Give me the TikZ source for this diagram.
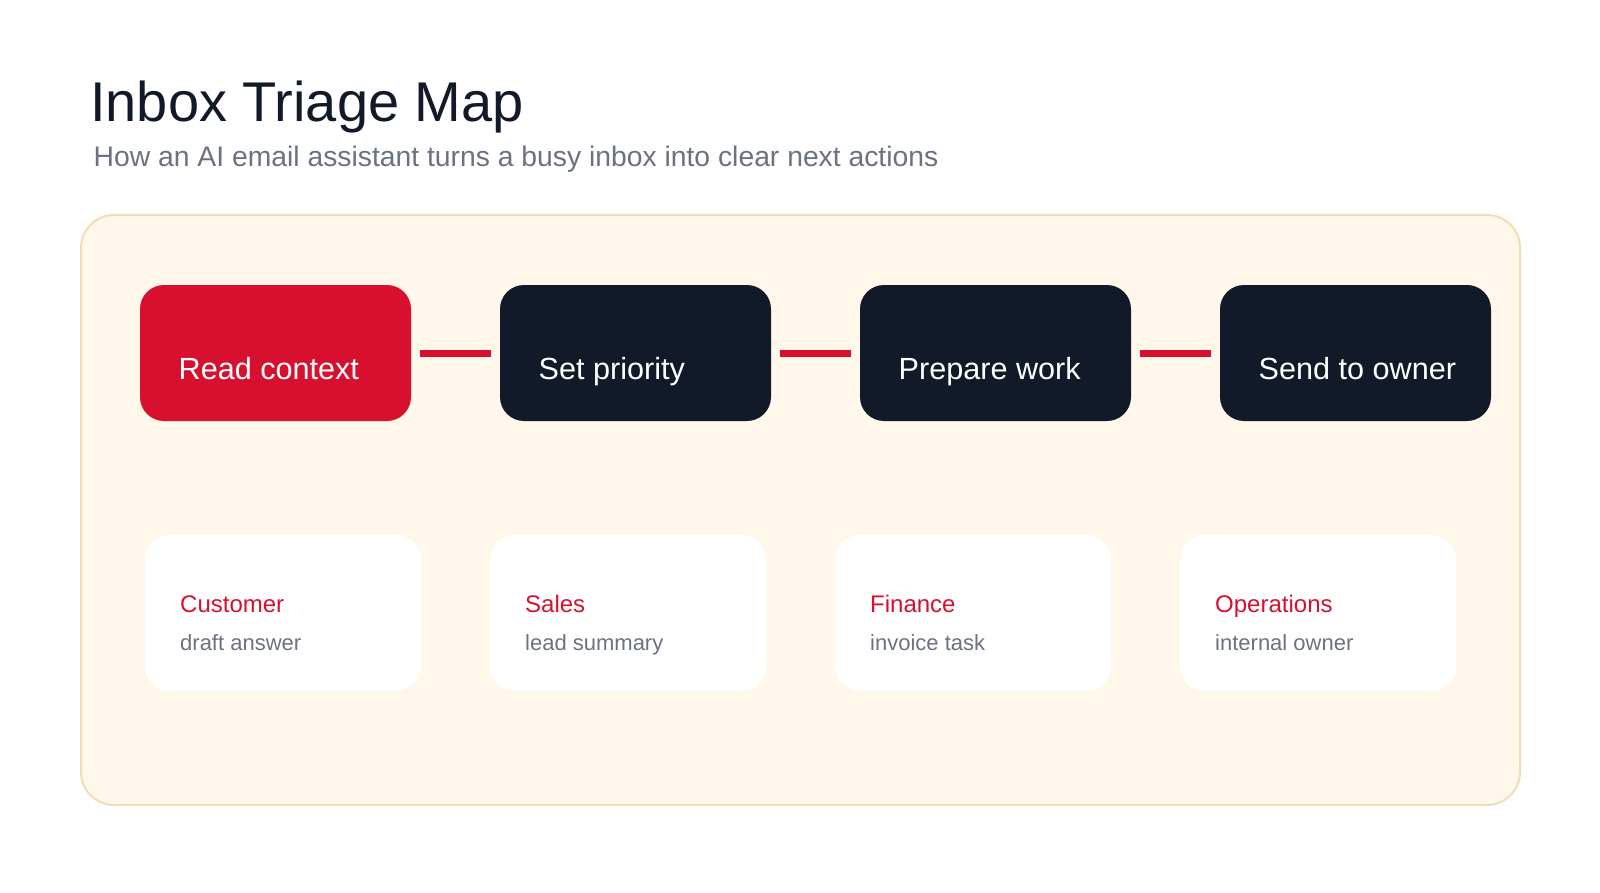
\documentclass[tikz,border=0pt]{standalone}
\usepackage{fontspec}
\setmainfont{Liberation Sans}
\definecolor{accent}{RGB}{215,16,47}
\definecolor{ink}{RGB}{18,25,41}
\definecolor{muted}{RGB}{107,114,128}
\definecolor{panelfill}{RGB}{255,247,234}
\definecolor{panelline}{RGB}{242,221,184}
\tikzset{
  panelbox/.style={draw=panelline, line width=2pt, fill=panelfill, rounded corners=33pt,
    minimum width=1439pt, minimum height=590pt, inner sep=0pt, outer sep=0pt},
  stepbox/.style={fill=ink, rounded corners=24pt, minimum width=271pt, minimum height=136pt,
    inner sep=0pt, outer sep=0pt},
  firstbox/.style={stepbox, fill=accent},
  steptext/.style={anchor=base west, inner sep=0pt, text=white, font=\fontsize{30.6}{35}\selectfont},
  cardbox/.style={fill=white, rounded corners=25pt, minimum width=276pt, minimum height=156pt,
    inner sep=0pt, outer sep=0pt},
  cardtitle/.style={anchor=base west, inner sep=0pt, text=accent, font=\fontsize{24}{28}\selectfont},
  cardsub/.style={anchor=base west, inner sep=0pt, text=muted, font=\fontsize{22}{26}\selectfont},
  conn/.style={draw=accent, line width=7pt},
}
\begin{document}
\begin{tikzpicture}[x=1pt,y=-1pt]
\useasboundingbox (0,0) rectangle (1600,893);
\fill[white] (0,0) rectangle (1600,893);
% title
\node[anchor=base west, inner sep=0pt, text=ink, font=\fontsize{56}{60}\selectfont] (title) at (90,121.7) {Inbox Triage Map};
\node[anchor=base west, inner sep=0pt, text=muted, font=\fontsize{28.3}{32}\selectfont] (subtitle) at (93.5,167) {How an AI email assistant turns a busy inbox into clear next actions};
% panel
\node[panelbox] (panel) at (800.5,510) {};
% steps
\node[firstbox] (b1) at (275.5,353) {};
\node[stepbox] (b2) at (635.5,353) {};
\node[stepbox] (b3) at (995.5,353) {};
\node[stepbox] (b4) at (1355.5,353) {};
\node[steptext] (t1) at ([xshift=38.5pt,yshift=-26pt]b1.west) {Read context};
\node[steptext] (t2) at ([xshift=38.5pt,yshift=-26pt]b2.west) {Set priority};
\node[steptext] (t3) at ([xshift=38.5pt,yshift=-26pt]b3.west) {Prepare work};
\node[steptext] (t4) at ([xshift=38.5pt,yshift=-26pt]b4.west) {Send to owner};
\draw[conn] ([xshift=9pt]b1.east) -- ([xshift=-9pt]b2.west);
\draw[conn] ([xshift=9pt]b2.east) -- ([xshift=-9pt]b3.west);
\draw[conn] ([xshift=9pt]b3.east) -- ([xshift=-9pt]b4.west);
% cards
\node[cardbox] (c1) at (283,613) {};
\node[cardbox] (c2) at (628,613) {};
\node[cardbox] (c3) at (973,613) {};
\node[cardbox] (c4) at (1318,613) {};
\node[cardtitle] (c1t) at ([xshift=35pt,yshift=1pt]c1.west) {Customer};
\node[cardsub] (c1s) at ([xshift=35pt,yshift=-37pt]c1.west) {draft answer};
\node[cardtitle] (c2t) at ([xshift=35pt,yshift=1pt]c2.west) {Sales};
\node[cardsub] (c2s) at ([xshift=35pt,yshift=-37pt]c2.west) {lead summary};
\node[cardtitle] (c3t) at ([xshift=35pt,yshift=1pt]c3.west) {Finance};
\node[cardsub] (c3s) at ([xshift=35pt,yshift=-37pt]c3.west) {invoice task};
\node[cardtitle] (c4t) at ([xshift=35pt,yshift=1pt]c4.west) {Operations};
\node[cardsub] (c4s) at ([xshift=35pt,yshift=-37pt]c4.west) {internal owner};
\end{tikzpicture}
\end{document}
